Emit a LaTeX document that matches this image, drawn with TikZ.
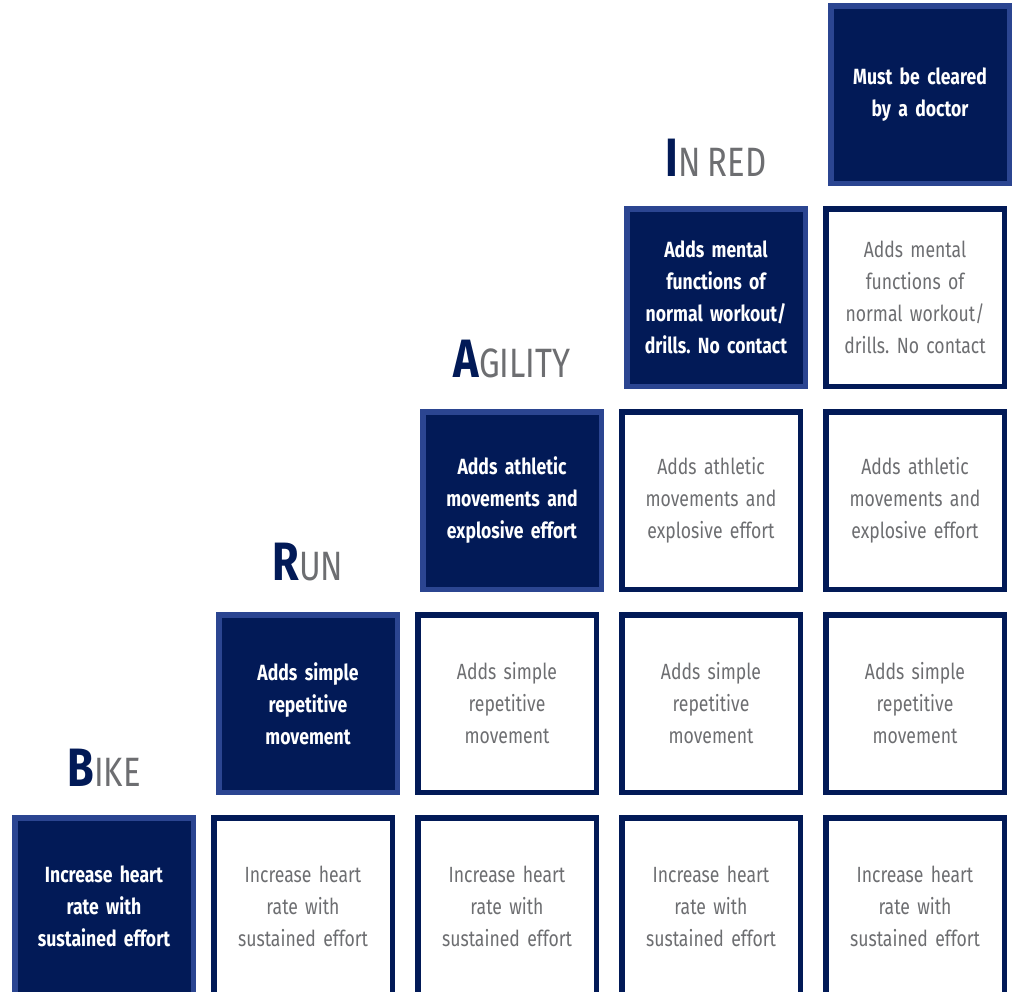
\documentclass[tikz,border=0pt]{standalone}
\usepackage{fontspec}
\setmainfont{Fira Sans}[FakeStretch=0.8, WordSpace=0.8]
\frenchspacing

\definecolor{navy}{HTML}{021A57}
\definecolor{edgeblue}{HTML}{2B4591}
\definecolor{textgray}{HTML}{6D6E71}

\tikzset{
  box/.style={line width=5.5pt, minimum width=178.5pt, minimum height=177.5pt, text width=170pt, align=center, inner sep=0pt},
  stage/.style={box, draw=edgeblue, fill=navy, text=white, font=\fontsize{22}{32}\selectfont\bfseries},
  level/.style={box, draw=navy, fill=white, text=textgray, font=\fontsize{22}{32}\selectfont},
  title/.style={anchor=base, inner sep=0pt, text=textgray, font=\fontsize{41}{41}\selectfont}
}
\newcommand{\capfirst}[1]{{\fontsize{54}{54}\selectfont\bfseries\color{navy}#1}}

\begin{document}
\begin{tikzpicture}[x=1pt,y=-1pt]
\clip (0,0) rectangle (1015,991);
\fill[white] (0,0) rectangle (1015,991);
% stages
\node[stage] (bike) at (104,906.5) {Increase heart\\rate with\\sustained effort};
\node[stage] (run) at (308,703.5) {Adds simple\\repetitive\\movement};
\node[stage] (agility) at (512,500.5) {Adds athletic\\movements and\\explosive effort};
\node[stage] (inred) at (716,297.5) {Adds mental\\functions of\\normal workout/\\drills. No contact};
\node[stage] (doctor) at (920,94.5) {Must be cleared\\by a doctor};
% carried over
\node[level] (hr1) at (303,906.5) {Increase heart\\rate with\\sustained effort};
\node[level] (hr2) at (507,906.5) {Increase heart\\rate with\\sustained effort};
\node[level] (hr3) at (711,906.5) {Increase heart\\rate with\\sustained effort};
\node[level] (hr4) at (915,906.5) {Increase heart\\rate with\\sustained effort};
\node[level] (mv2) at (507,703.5) {Adds simple\\repetitive\\movement};
\node[level] (mv3) at (711,703.5) {Adds simple\\repetitive\\movement};
\node[level] (mv4) at (915,703.5) {Adds simple\\repetitive\\movement};
\node[level] (ex3) at (711,500.5) {Adds athletic\\movements and\\explosive effort};
\node[level] (ex4) at (915,500.5) {Adds athletic\\movements and\\explosive effort};
\node[level] (mf4) at (915,297.5) {Adds mental\\functions of\\normal workout/\\drills. No contact};
% titles
\node[title] (tbike) at (104,786) {\capfirst{B}IKE};
\node[title] (trun) at (308,580) {\capfirst{R}UN};
\node[title] (tagility) at (512,377) {\capfirst{A}GILITY};
\node[title] (tinred) at (716,176) {\capfirst{I}N RED};
\end{tikzpicture}
\end{document}
